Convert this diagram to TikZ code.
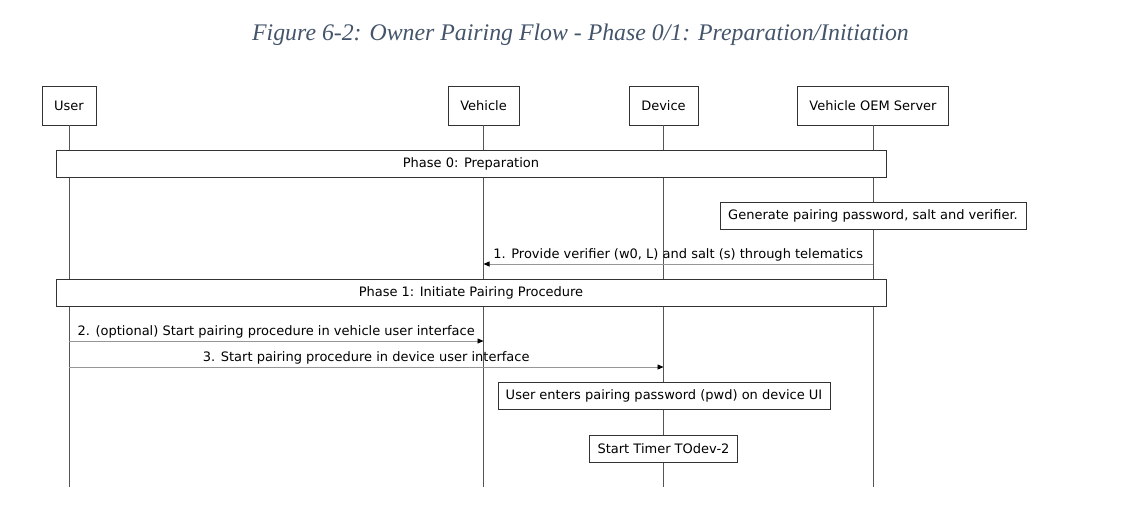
\documentclass[tikz,border=0pt]{standalone}
\usepackage{fontspec}
\setmainfont{DejaVu Sans}
\newfontfamily\captionfont{Liberation Serif}
\usetikzlibrary{arrows.meta}
\definecolor{captionblue}{RGB}{68,84,106}
\definecolor{lifegray}{RGB}{85,85,85}
\definecolor{msggray}{RGB}{150,150,150}
\tikzset{
  actor/.style={draw=black!80, fill=white, minimum height=39pt, inner xsep=12pt, font=\fontsize{13}{15}\selectfont},
  notebox/.style={draw=black!80, fill=white, minimum height=27pt, inner xsep=8pt, font=\fontsize{13}{15}\selectfont},
  phasebox/.style={notebox, minimum width=830pt},
  lifeline/.style={draw=lifegray, line width=1pt},
  msg/.style={draw=msggray, line width=0.8pt, -{Triangle[length=6pt,width=5pt,black]}},
  msglabel/.style={above, inner sep=2pt, font=\fontsize{13}{15}\selectfont}
}
\begin{document}
\begin{tikzpicture}[x=1pt, y=-1pt]
        \useasboundingbox (0,0) rectangle (1131,507);
        % Caption
        \node[anchor=base, text=captionblue] (title) at (580.5,40)
          {\captionfont\itshape\fontsize{23.8}{28}\selectfont Figure 6-2: Owner Pairing Flow - Phase 0/1: Preparation/Initiation};
        % Participants
        \node[actor] (user) at (69,105.5) {User};
        \node[actor] (vehicle) at (483.5,105.5) {Vehicle};
        \node[actor] (device) at (663.5,105.5) {Device};
        \node[actor] (oem) at (873,105.5) {Vehicle OEM Server};
        % Lifelines
        \coordinate (user end) at (69,487);
        \coordinate (vehicle end) at (483.5,487);
        \coordinate (device end) at (663.5,487);
        \coordinate (oem end) at (873,487);
        \draw[lifeline] (user) -- (user end);
        \draw[lifeline] (vehicle) -- (vehicle end);
        \draw[lifeline] (device) -- (device end);
        \draw[lifeline] (oem) -- (oem end);
        % Phase 0
        \node[phasebox] (phase0) at (471,163.5) {Phase 0: Preparation};
        \node[notebox] (generate) at (873,215.5) {Generate pairing password, salt and verifier.};
        % Message 1
        \coordinate (m1 from) at (oem |- 0,264);
        \coordinate (m1 to) at (vehicle |- 0,264);
        \draw[msg] (m1 from) -- node[msglabel] {1. Provide verifier (w0, L) and salt (s) through telematics} (m1 to);
        % Phase 1
        \node[phasebox] (phase1) at (471,293) {Phase 1: Initiate Pairing Procedure};
        % Message 2
        \coordinate (m2 from) at (user |- 0,341);
        \coordinate (m2 to) at (vehicle |- 0,341);
        \draw[msg] (m2 from) -- node[msglabel] {2. (optional) Start pairing procedure in vehicle user interface} (m2 to);
        % Message 3
        \coordinate (m3 from) at (user |- 0,367);
        \coordinate (m3 to) at (device |- 0,367);
        \draw[msg] (m3 from) -- node[msglabel] {3. Start pairing procedure in device user interface} (m3 to);
        % Device actions
        \node[notebox] (enter pwd) at (664,396) {User enters pairing password (pwd) on device UI};
        \node[notebox] (timer) at (663.5,449) {Start Timer TOdev-2};
    \end{tikzpicture}
\end{document}
